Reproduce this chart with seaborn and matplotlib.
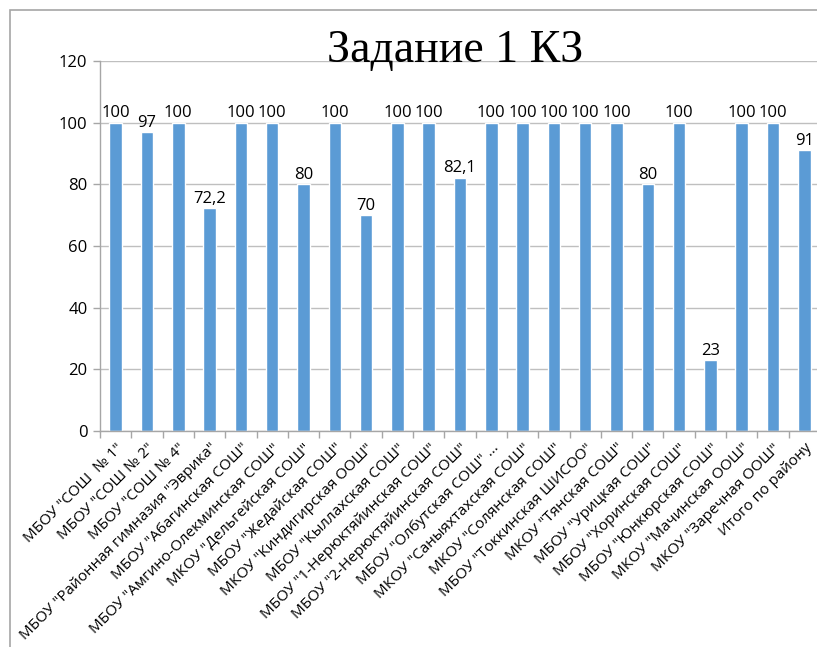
import seaborn as sns
import pandas as pd
import matplotlib.pyplot as plt
from matplotlib.patches import Rectangle

sns.set_style("white")
plt.rcParams["font.family"] = ["Open Sans", "DejaVu Sans"]
plt.rcParams["text.color"] = "black"
plt.rcParams["xtick.color"] = "black"
plt.rcParams["ytick.color"] = "black"

schools = [
    'МБОУ "СОШ  № 1"',
    'МБОУ "СОШ № 2"',
    'МБОУ "СОШ № 4"',
    'МБОУ "Районная гимназия "Эврика"',
    'МБОУ "Абагинская СОШ"',
    'МБОУ "Амгино-Олекминская СОШ"',
    'МКОУ "Дельгейская СОШ"',
    'МБОУ "Жедайская СОШ"',
    'МКОУ "Киндигирская ООШ"',
    'МБОУ "Кыллахская СОШ"',
    'МБОУ "1-Нерюктяйинская СОШ"',
    'МБОУ "2-Нерюктяйинская СОШ"',
    'МБОУ "Олбутская СОШ" ...',
    'МКОУ "Саныяхтахская СОШ"',
    'МКОУ "Солянская СОШ"',
    'МБОУ "Токкинская ШИСОО"',
    'МКОУ "Тянская СОШ"',
    'МБОУ "Урицкая СОШ"',
    'МБОУ "Хоринская СОШ"',
    'МБОУ "Юнкюрская СОШ"',
    'МКОУ "Мачинская ООШ"',
    'МКОУ "Заречная ООШ"',
    'Итого по району',
]
values = [100, 97, 100, 72.2, 100, 100, 80, 100, 70, 100, 100, 82.1, 100,
          100, 100, 100, 100, 80, 100, 23, 100, 100, 91]

df = pd.DataFrame({"school": schools, "value": values})

fig = plt.figure(figsize=(8.17, 6.47), dpi=100)
ax = fig.add_axes([100 / 817, 1 - 431 / 647, 720 / 817, 370 / 647])

sns.barplot(data=df, x="school", y="value", color="#5B9BD5", width=0.4,
            saturation=1, ax=ax)

ax.set_ylim(0, 120)
ax.set_xlim(-0.5, len(schools) - 0.5)
ax.set_yticks(range(0, 121, 20))
ax.grid(axis="y", color="#BFBFBF", linewidth=1)
ax.set_axisbelow(True)
ax.set_xlabel("")
ax.set_ylabel("")

for s in ["top", "right"]:
    ax.spines[s].set_visible(False)
for s in ["left", "bottom"]:
    ax.spines[s].set_color("#A6A6A6")
    ax.spines[s].set_linewidth(1)

ax.tick_params(axis="y", length=5, width=1, color="#A6A6A6", pad=4,
               labelsize=12, labelcolor="black", left=True)
ax.set_xticks(range(len(schools)))
ax.set_xticklabels(schools, rotation=45, ha="right", rotation_mode="anchor",
                   fontsize=11, color="black")
ax.tick_params(axis="x", which="major", length=0, pad=7)
ax.set_xticks([i - 0.5 for i in range(len(schools) + 1)], minor=True)
ax.tick_params(axis="x", which="minor", length=5, width=1, color="#A6A6A6",
               bottom=True)

labels = [str(v).replace(".", ",") if v != int(v) else str(int(v)) for v in values]
ax.bar_label(ax.containers[0], labels=labels, padding=1, fontsize=12,
             color="black")

fig.text(455 / 817, 1 - 62 / 647, "Задание 1 КЗ", family="Liberation Serif",
         fontsize=33, ha="center", va="baseline", color="black")

frame = Rectangle((9.5 / 817, -0.1), 1.2, 1 - 9.5 / 647 + 0.1,
                  transform=fig.transFigure, fill=False,
                  edgecolor="#A6A6A6", linewidth=1.2)
fig.patches.append(frame)

fig.savefig("out.png", dpi=100)
